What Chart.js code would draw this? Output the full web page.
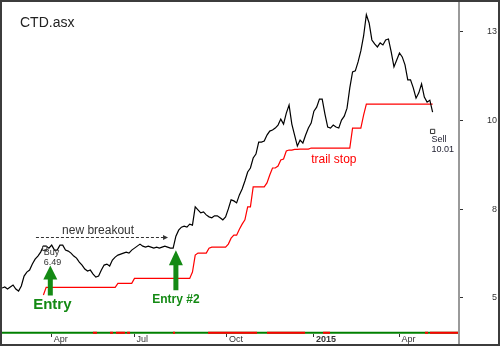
<!DOCTYPE html>
<html>
<head>
<meta charset="utf-8">
<script src="https://cdn.jsdelivr.net/npm/chart.js@4.4.1/dist/chart.umd.min.js"></script>
<style>
  html, body { margin: 0; padding: 0; background: #fff; }
  #frame { width: 500px; height: 346px; box-sizing: border-box; border: 2px solid #3c3c3c; }
  #frame canvas { display: block; }
</style>
</head>
<body>
<div id="frame"><canvas id="chart" width="496" height="342"></canvas></div>
<script>
document.addEventListener('DOMContentLoaded', () => {

    const symbol = 'CTD.asx';

    // Closing prices, one every second trading day (x = trading-day index).
    const closeStep = 2;
    const closes = [
        5.30, 5.33, 5.27, 5.33, 5.39, 5.27, 5.21, 5.36, 5.66, 5.78,
        5.84, 6.02, 6.17, 6.26, 6.38, 6.56, 6.56, 6.50, 6.59, 6.44,
        6.44, 6.59, 6.59, 6.44, 6.41, 6.35, 6.26, 6.20, 6.08, 5.99,
        5.87, 5.81, 5.84, 5.72, 5.63, 5.66, 5.84, 5.99, 6.02, 5.96,
        6.14, 6.23, 6.29, 6.32, 6.35, 6.38, 6.35, 6.44, 6.50, 6.56,
        6.62, 6.56, 6.53, 6.56, 6.53, 6.50, 6.53, 6.50, 6.53, 6.56,
        6.53, 6.50, 6.50, 6.86, 7.04, 7.13, 7.16, 7.13, 7.22, 7.19,
        7.74, 7.65, 7.56, 7.59, 7.50, 7.44, 7.41, 7.47, 7.47, 7.41,
        7.35, 7.44, 7.68, 7.95, 7.92, 7.86, 8.10, 8.28, 8.52, 8.79,
        8.91, 9.21, 9.33, 9.69, 9.69, 9.72, 9.90, 10.02, 10.05, 10.11,
        10.20, 10.38, 10.23, 10.56, 10.80, 10.23, 9.90, 9.57, 9.75, 9.66,
        9.90, 10.11, 10.26, 10.62, 10.74, 10.98, 10.98, 10.53, 10.14, 10.11,
        10.20, 10.14, 10.11, 10.35, 10.47, 10.71, 11.32, 11.80, 11.83, 12.10,
        12.43, 12.88, 13.52, 13.27, 12.76, 12.64, 12.55, 12.67, 12.61, 12.76,
        12.79, 12.40, 11.95, 12.16, 12.37, 12.25, 12.01, 11.56, 11.56, 11.32,
        11.01, 11.17, 11.44, 11.04, 10.89, 10.95, 10.59
    ];

    // Trailing stop on the same days (empty before the first entry).
    const trailStop = [
        null, null, null, null, null, null, null, null, null, null,
        null, null, null, null, null, 5.09, 5.32, 5.32, 5.32, 5.32,
        5.32, 5.32, 5.32, 5.32, 5.32, 5.32, 5.32, 5.32, 5.32, 5.32,
        5.32, 5.32, 5.32, 5.32, 5.32, 5.32, 5.32, 5.32, 5.32, 5.32,
        5.32, 5.32, 5.44, 5.44, 5.44, 5.44, 5.44, 5.44, 5.59, 5.59,
        5.59, 5.59, 5.59, 5.59, 5.59, 5.59, 5.59, 5.59, 5.59, 5.59,
        5.59, 5.59, 5.59, 5.59, 5.59, 5.59, 5.59, 5.59, 5.59, 5.78,
        6.29, 6.35, 6.35, 6.35, 6.35, 6.50, 6.53, 6.53, 6.53, 6.53,
        6.53, 6.53, 6.62, 6.80, 6.89, 6.89, 7.07, 7.22, 7.35, 7.74,
        7.74, 8.34, 8.34, 8.34, 8.34, 8.34, 8.46, 8.70, 8.91, 8.91,
        8.97, 9.15, 9.18, 9.42, 9.45, 9.45, 9.47, 9.47, 9.48, 9.48,
        9.48, 9.48, 9.51, 9.51, 9.51, 9.51, 9.51, 9.51, 9.51, 9.51,
        9.51, 9.51, 9.51, 9.51, 9.51, 9.51, 9.51, 10.11, 10.11, 10.11,
        10.11, 10.50, 10.83, 10.83, 10.83, 10.83, 10.83, 10.83, 10.83, 10.83,
        10.83, 10.83, 10.83, 10.83, 10.83, 10.83, 10.83, 10.83, 10.83, 10.83,
        10.83, 10.83, 10.83, 10.83, 10.83, 10.83, 10.83
    ];

    // Trades: trading-day index and fill price.
    const tradeLabels = ['Buy', 'Sell'];
    const tradeDays = [31, 312];
    const tradePrices = [6.49, 10.01];

    // Bearish stretches of the trend ribbon (trading-day index from / to).
    const ribbonRedRuns = [
        [65.9, 68.8], [78.3, 80.4], [82.6, 89.1], [90.6, 92.8], [123.9, 125.4],
        [149.3, 184.8], [192.0, 219.6], [232.6, 237.7], [306.5, 308.7], [310.1, 330.4]
    ];

    // Axis ticks.
    const monthTickDays = [36, 96, 163, 226, 288];
    const monthLabels = ['Apr', 'Jul', 'Oct', '2015', 'Apr'];
    const priceTicks = [5, 23 / 3, 31 / 3, 13];

    const dayMax = 330.4;
    const priceMin = 3.917;
    const priceMax = 13.902;
    const ribbonLevel = 3.953;

    const green = '#148a14';
    const tickFont = { family: '"Liberation Sans", Arial, sans-serif', size: 9 };

    const pts = (arr) => arr.map((v, i) => ({ x: i * closeStep, y: v }));

    const ribbonRed = ribbonRedRuns.flatMap(([a, b]) => [
        { x: a, y: ribbonLevel }, { x: b, y: ribbonLevel }, { x: b, y: null }
    ]);

    const tradeMarks = tradeDays.map((d, i) => ({ x: d, y: tradePrices[i] }));

    // no extra room for edge labels, the plot runs right up to the frame
    const noEdgePadding = (scale) => {
        scale.paddingTop = 0;
        scale.paddingBottom = 0;
        scale.paddingLeft = 0;
        scale.paddingRight = 0;
    };

    const arrowUp = (ctx, x, tipY, baseY, bottomY) => {
        ctx.beginPath();
        ctx.moveTo(x, tipY);
        ctx.lineTo(x + 7, baseY);
        ctx.lineTo(x + 2.5, baseY);
        ctx.lineTo(x + 2.5, bottomY);
        ctx.lineTo(x - 2.5, bottomY);
        ctx.lineTo(x - 2.5, baseY);
        ctx.lineTo(x - 7, baseY);
        ctx.closePath();
        ctx.fill();
    };

    // Title, trade labels, arrows and notes on top of the series.
    const notes = {
        id: 'notes',
        afterDatasetsDraw(chart) {
            const { ctx, scales: { x, y }, chartArea } = chart;
            ctx.save();

            // axis separator running the full height
            ctx.strokeStyle = '#9a9a9a';
            ctx.lineWidth = 2;
            ctx.beginPath();
            ctx.moveTo(chartArea.right + 1, 0);
            ctx.lineTo(chartArea.right + 1, chart.height);
            ctx.stroke();

            ctx.fillStyle = '#222';
            ctx.font = '14px "Liberation Sans", Arial, sans-serif';
            ctx.textAlign = 'left';
            ctx.textBaseline = 'alphabetic';
            ctx.fillText(symbol, 18, 25);

            // new breakout
            const by = Math.round(y.getPixelForValue(6.84)) + 0.5;
            const bx0 = x.getPixelForValue(24.6);
            const bx1 = x.getPixelForValue(120.3);
            ctx.strokeStyle = '#333';
            ctx.lineWidth = 1;
            ctx.setLineDash([3, 2]);
            ctx.beginPath();
            ctx.moveTo(bx0, by);
            ctx.lineTo(bx1 - 4, by);
            ctx.stroke();
            ctx.setLineDash([]);
            ctx.fillStyle = '#333';
            ctx.beginPath();
            ctx.moveTo(bx1, by);
            ctx.lineTo(bx1 - 5, by - 2.5);
            ctx.lineTo(bx1 - 5, by + 2.5);
            ctx.closePath();
            ctx.fill();
            ctx.font = '12px "Liberation Sans", Arial, sans-serif';
            ctx.textAlign = 'center';
            ctx.fillText('new breakout', x.getPixelForValue(69.6), by - 4);

            // trade labels
            ctx.font = '9px "Liberation Sans", Arial, sans-serif';
            ctx.textAlign = 'left';
            tradeDays.forEach((d, i) => {
                const px = x.getPixelForValue(d) - 1;
                const py = y.getPixelForValue(tradePrices[i]);
                ctx.fillStyle = i === 0 ? '#333' : '#223';
                ctx.fillText(tradeLabels[i], px, py + (i === 0 ? 7 : 11));
                ctx.fillText(tradePrices[i].toFixed(2), px, py + (i === 0 ? 17 : 21));
            });

            // entry arrows
            ctx.fillStyle = green;
            const e1x = x.getPixelForValue(35);
            const e1y = y.getPixelForValue(tradePrices[0]);
            arrowUp(ctx, e1x, e1y + 17, e1y + 31, e1y + 47);
            ctx.font = 'bold 15px "Liberation Sans", Arial, sans-serif';
            ctx.textAlign = 'center';
            ctx.fillText('Entry', e1x + 2, e1y + 61);

            const e2x = x.getPixelForValue(126);
            const e2y = y.getPixelForValue(closes[63]);
            arrowUp(ctx, e2x, e2y + 14, e2y + 29, e2y + 54);
            ctx.font = 'bold 12px "Liberation Sans", Arial, sans-serif';
            ctx.fillText('Entry #2', e2x, e2y + 67);

            // trail stop label
            ctx.fillStyle = '#ff0000';
            ctx.font = '12px "Liberation Sans", Arial, sans-serif';
            ctx.textAlign = 'left';
            ctx.fillText('trail stop', x.getPixelForValue(224), y.getPixelForValue(9.48) + 14);

            ctx.restore();
        }
    };

    new Chart(document.getElementById('chart'), {
        type: 'line',
        data: {
            datasets: [
                {
                    label: 'trades',
                    data: tradeMarks,
                    showLine: false,
                    pointStyle: 'rect',
                    pointRadius: 3,
                    pointHoverRadius: 3,
                    borderWidth: 1,
                    borderColor: '#333',
                    backgroundColor: '#fff'
                },
                {
                    label: symbol,
                    data: pts(closes),
                    borderColor: '#000',
                    borderWidth: 1.2,
                    pointRadius: 0
                },
                {
                    label: 'trail stop',
                    data: pts(trailStop),
                    borderColor: '#ff0000',
                    borderWidth: 1.2,
                    pointRadius: 0
                },
                {
                    label: 'ribbon down',
                    data: ribbonRed,
                    borderColor: '#ff0000',
                    borderWidth: 2,
                    pointRadius: 0,
                    spanGaps: false
                },
                {
                    label: 'ribbon up',
                    data: [{ x: 0, y: ribbonLevel }, { x: dayMax, y: ribbonLevel }],
                    borderColor: '#008000',
                    borderWidth: 2,
                    pointRadius: 0
                }
            ]
        },
        options: {
            responsive: false,
            animation: false,
            events: [],
            // plot runs right up to the frame, no room kept for point overflow
            layout: { autoPadding: false, padding: { top: 0, left: 0, right: 1, bottom: 0 } },
            plugins: { legend: { display: false }, tooltip: { enabled: false } },
            scales: {
                x: {
                    type: 'linear',
                    min: 0,
                    max: dayMax,
                    afterBuildTicks: (scale) => {
                        scale.ticks = monthTickDays.map(v => ({ value: v }));
                    },
                    afterFit: (scale) => {
                        scale.height = 10;
                        noEdgePadding(scale);
                    },
                    grid: { drawOnChartArea: false, drawTicks: true, tickLength: 3, color: '#333' },
                    border: { display: false },
                    ticks: {
                        autoSkip: false,
                        maxRotation: 0,
                        align: 'start',
                        labelOffset: 2,
                        padding: -3,
                        color: '#333',
                        font: (c) => ({
                            ...tickFont,
                            weight: c.tick && c.tick.value === 226 ? 'bold' : 'normal'
                        }),
                        callback: (value) => monthLabels[monthTickDays.indexOf(value)]
                    }
                },
                y: {
                    position: 'right',
                    min: priceMin,
                    max: priceMax,
                    afterBuildTicks: (scale) => {
                        scale.ticks = priceTicks.map(v => ({ value: v }));
                    },
                    afterFit: (scale) => {
                        scale.width = 39;
                        noEdgePadding(scale);
                    },
                    grid: { drawOnChartArea: false, drawTicks: true, tickLength: 5, color: '#333' },
                    border: { display: false },
                    ticks: {
                        crossAlign: 'far',
                        padding: 0,
                        color: '#333',
                        font: tickFont,
                        callback: (value) => Math.round(value)
                    }
                }
            }
        },
        plugins: [notes]
    });
});
</script>
</body>
</html>
